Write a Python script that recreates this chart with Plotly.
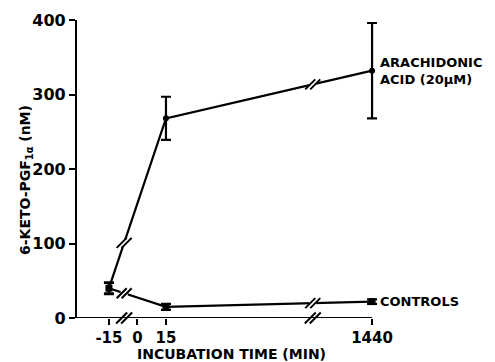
import numpy as np
import plotly.graph_objects as go

# ---- data ----
times = [-15, 15, 1440]
aa_vals = [40, 268, 332]
aa_err = [8, 29, 64]
ctrl_vals = [40, 15, 22]
ctrl_err = [7, 4, 3]
tick_times = [-15, 0, 15, 1440]
tick_labels = ["-15", "0", "15", "1440"]
y_ticks = [0, 100, 200, 300, 400]
break_times = [-7, 1030]

# broken time scale: linear up to 15 min, compressed afterwards
def tpos(t):
    t = np.asarray(t, dtype=float)
    return np.where(t <= 15, t, 15 + (t - 15) * (108.4 / 1425.0))

xr = [-31.8, 126.0]
yr = [0, 400]
L, T, B = 77, 20, 44
W, H = 495, 362
x_end_px = 372
pxx = (x_end_px - L) / (123.4 - xr[0])
pw = (xr[1] - xr[0]) * pxx
R = W - L - pw
ph = H - T - B

FONT = "DejaVu Sans, Verdana, sans-serif"
xs = tpos(times)
bx = tpos(break_times)

fig = go.Figure()

for vals, err, sym, msize in [(aa_vals, aa_err, "circle", 6), (ctrl_vals, ctrl_err, "square", 7)]:
    fig.add_trace(go.Scatter(
        x=xs, y=vals, mode="lines+markers",
        line=dict(color="black", width=2.2),
        marker=dict(color="black", size=msize, symbol=sym),
        error_y=dict(type="data", array=err, visible=True, color="black", thickness=2.2, width=5),
        showlegend=False, hoverinfo="skip", cliponaxis=False))

# line breaks (gap + double slash) on each series
for vals in (aa_vals, ctrl_vals):
    by = np.interp(bx, xs, vals)
    fig.add_trace(go.Scatter(x=bx, y=by, mode="markers",
        marker=dict(symbol="square", size=7, color="white"),
        showlegend=False, hoverinfo="skip", cliponaxis=False))
    for off in (-2.5, 2.5):
        fig.add_trace(go.Scatter(x=bx + off / pxx, y=by, mode="markers",
            marker=dict(symbol="line-ne", size=10, line=dict(color="black", width=2)),
            showlegend=False, hoverinfo="skip", cliponaxis=False))

# x-axis line ending at the last tick
fig.add_shape(type="line", xref="x", yref="y", x0=xr[0], x1=float(tpos(1440)), y0=0, y1=0,
              line=dict(color="black", width=2.2), layer="above")

# axis breaks on x-axis
fig.add_trace(go.Scatter(x=bx, y=[0] * len(bx), mode="markers",
    marker=dict(symbol="square", size=7, color="white"),
    showlegend=False, hoverinfo="skip", cliponaxis=False))
for off in (-2.5, 2.5):
    fig.add_trace(go.Scatter(x=bx + off / pxx, y=[0] * len(bx), mode="markers",
        marker=dict(symbol="line-ne", size=11, line=dict(color="black", width=2)),
        showlegend=False, hoverinfo="skip", cliponaxis=False))

fig.add_annotation(x=xs[-1], y=aa_vals[-1], xref="x", yref="y",
    text="ARACHIDONIC<br>ACID (20μM)", showarrow=False, xanchor="left", yanchor="middle",
    xshift=6, align="left", font=dict(family=FONT, size=13, color="black", weight="bold"))
fig.add_annotation(x=xs[-1], y=ctrl_vals[-1], xref="x", yref="y",
    text="CONTROLS", showarrow=False, xanchor="left", yanchor="middle",
    xshift=6, align="left", font=dict(family=FONT, size=13, color="black", weight="bold"))

# y-axis title
fig.add_annotation(x=-(L - 26) / pw, y=(318 - 180) / ph, xref="paper", yref="paper",
    text="6-KETO-PGF<sub>1α</sub> (nM)", textangle=-90, showarrow=False,
    xanchor="center", yanchor="middle",
    font=dict(family=FONT, size=14, color="black", weight="bold"))

# x-axis title
fig.add_annotation(x=(231 - L) / pw, y=-(354 - 318) / ph, xref="paper", yref="paper",
    text="INCUBATION TIME (MIN)", showarrow=False, xanchor="center", yanchor="middle",
    font=dict(family=FONT, size=14, color="black", weight="bold"))

fig.update_layout(
    width=W, height=H, margin=dict(l=L, r=R, t=T, b=B, autoexpand=False),
    paper_bgcolor="white", plot_bgcolor="white",
    font=dict(family=FONT, color="black", weight="bold"),
    xaxis=dict(range=xr, showgrid=False, zeroline=False, showline=False, automargin=False,
               ticks="outside", ticklen=6, tickwidth=2, tickcolor="black",
               tickvals=list(tpos(tick_times)), ticktext=tick_labels,
               tickfont=dict(family=FONT, size=15, weight="bold")),
    yaxis=dict(range=yr, showgrid=False, zeroline=False, showline=True, linecolor="black", linewidth=2.2,
               automargin=False,
               ticks="outside", ticklen=6, tickwidth=2, tickcolor="black",
               tickvals=y_ticks, tickfont=dict(family=FONT, size=16, weight="bold")),
)

fig.write_html("out.html", config={"displayModeBar": False},
               post_script="document.body.style.margin='0';")
